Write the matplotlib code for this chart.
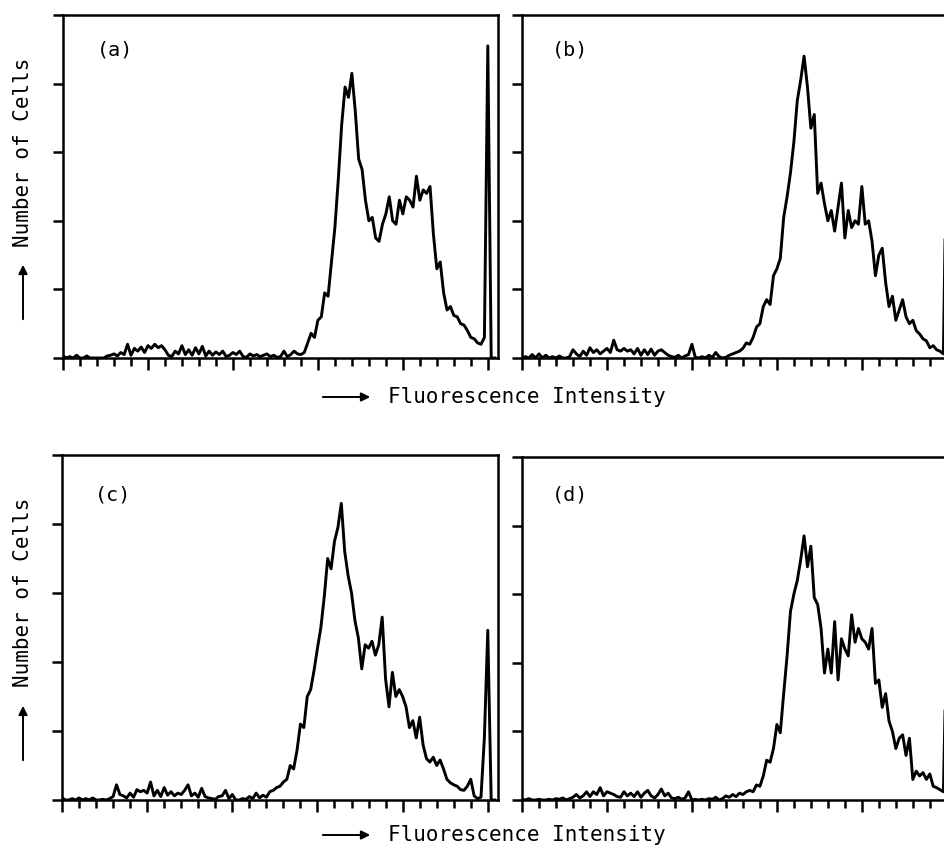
import numpy as np
import matplotlib
matplotlib.use("Agg")
import matplotlib.pyplot as plt
from matplotlib.patches import FancyArrowPatch

# channel positions (every 2nd channel of a 256-channel histogram)
channels = np.arange(0, 256, 2)

counts_a = [0.03, 0, 0.02, 0, 0.04, 0, 0, 0.03, 0, 0,
            0, 0, 0, 0.03, 0.04, 0.06, 0.03, 0.08, 0.05, 0.2,
            0.04, 0.14, 0.1, 0.16, 0.08, 0.18, 0.14, 0.2, 0.15, 0.18,
            0.12, 0.04, 0.02, 0.1, 0.06, 0.18, 0.05, 0.12, 0.04, 0.15,
            0.06, 0.17, 0.03, 0.1, 0.04, 0.09, 0.05, 0.1, 0.02, 0.04,
            0.08, 0.05, 0.1, 0.02, 0.01, 0.06, 0.03, 0.05, 0.02, 0.04,
            0.06, 0.02, 0.04, 0.01, 0.02, 0.1, 0.02, 0.05, 0.1, 0.06,
            0.05, 0.08, 0.22, 0.36, 0.3, 0.55, 0.6, 0.95, 0.9, 1.4,
            1.9, 2.6, 3.4, 3.95, 3.8, 4.15, 3.6, 2.9, 2.75, 2.3,
            2.0, 2.05, 1.75, 1.7, 1.95, 2.1, 2.35, 2.0, 1.95, 2.3,
            2.1, 2.35, 2.3, 2.2, 2.65, 2.3, 2.45, 2.4, 2.5, 1.8,
            1.3, 1.4, 0.95, 0.7, 0.75, 0.62, 0.6, 0.5, 0.48, 0.4,
            0.3, 0.28, 0.22, 0.2, 0.3, 4.55, 0, 0]

counts_b = [0, 0.02, 0, 0.05, 0, 0.06, 0, 0.04, 0, 0.02,
            0, 0.03, 0, 0, 0.02, 0.12, 0.06, 0.02, 0.1, 0.04,
            0.15, 0.08, 0.12, 0.06, 0.1, 0.14, 0.08, 0.26, 0.12, 0.1,
            0.14, 0.1, 0.12, 0.06, 0.14, 0.04, 0.12, 0.05, 0.13, 0.04,
            0.1, 0.12, 0.08, 0.04, 0.02, 0.01, 0.04, 0, 0.03, 0.05,
            0.2, 0.01, 0, 0.02, 0, 0.04, 0.01, 0.08, 0.02, 0,
            0.01, 0.04, 0.06, 0.08, 0.1, 0.14, 0.22, 0.2, 0.3, 0.45,
            0.5, 0.75, 0.85, 0.78, 1.2, 1.3, 1.45, 2.05, 2.35, 2.7,
            3.15, 3.75, 4.05, 4.4, 3.95, 3.35, 3.55, 2.4, 2.55, 2.25,
            2.0, 2.15, 1.85, 2.2, 2.55, 1.75, 2.15, 1.9, 2.0, 1.95,
            2.5, 1.95, 2.0, 1.7, 1.2, 1.5, 1.6, 1.1, 0.75, 0.9,
            0.55, 0.7, 0.85, 0.6, 0.5, 0.55, 0.4, 0.35, 0.28, 0.25,
            0.15, 0.18, 0.12, 0.1, 0.06, 3.6, 0, 0]

counts_c = [0.03, 0, 0, 0.02, 0, 0.03, 0, 0.02, 0, 0.03,
            0, 0, 0.01, 0, 0.02, 0.05, 0.22, 0.08, 0.06, 0.03,
            0.1, 0.04, 0.15, 0.12, 0.14, 0.1, 0.26, 0.06, 0.14, 0.05,
            0.18, 0.07, 0.12, 0.06, 0.1, 0.08, 0.14, 0.22, 0.06, 0.1,
            0.04, 0.17, 0.05, 0.03, 0.02, 0.01, 0.05, 0.06, 0.14, 0.02,
            0.08, 0, 0, 0.02, 0.01, 0.05, 0.02, 0.1, 0.03, 0.07,
            0.04, 0.12, 0.14, 0.18, 0.2, 0.26, 0.3, 0.5, 0.45, 0.72,
            1.1, 1.05, 1.5, 1.6, 1.88, 2.2, 2.5, 2.95, 3.5, 3.35,
            3.75, 3.95, 4.3, 3.6, 3.25, 3.0, 2.6, 2.35, 1.9, 2.25,
            2.2, 2.3, 2.1, 2.25, 2.65, 1.75, 1.35, 1.85, 1.5, 1.6,
            1.5, 1.35, 1.05, 1.15, 0.9, 1.2, 0.8, 0.6, 0.55, 0.62,
            0.5, 0.58, 0.45, 0.3, 0.25, 0.22, 0.2, 0.15, 0.14, 0.2,
            0.3, 0.06, 0.02, 0.04, 0.9, 2.46, 0, 0]

counts_d = [0.01, 0, 0.02, 0, 0, 0.01, 0, 0, 0.01, 0,
            0.02, 0.01, 0.03, 0, 0.02, 0.04, 0.08, 0.03, 0.06, 0.12,
            0.05, 0.12, 0.08, 0.18, 0.06, 0.12, 0.1, 0.08, 0.05, 0.04,
            0.12, 0.06, 0.1, 0.05, 0.12, 0.04, 0.1, 0.14, 0.06, 0.03,
            0.08, 0.16, 0.06, 0.1, 0.03, 0.02, 0.04, 0.01, 0.03, 0.12,
            0, 0.01, 0, 0.01, 0, 0.02, 0.01, 0.04, 0, 0.02,
            0.06, 0.04, 0.08, 0.05, 0.1, 0.08, 0.12, 0.14, 0.12, 0.22,
            0.2, 0.35, 0.58, 0.55, 0.75, 1.1, 0.98, 1.55, 2.1, 2.75,
            3.0, 3.2, 3.5, 3.85, 3.4, 3.7, 2.95, 2.85, 2.5, 1.85,
            2.2, 1.85, 2.6, 1.75, 2.35, 2.2, 2.1, 2.7, 2.3, 2.5,
            2.35, 2.3, 2.2, 2.5, 1.7, 1.75, 1.35, 1.55, 1.15, 1.0,
            0.75, 0.9, 0.95, 0.65, 0.9, 0.3, 0.42, 0.35, 0.4, 0.3,
            0.38, 0.2, 0.18, 0.15, 0.12, 2.63, 0, 0]

panel_labels = ["(a)", "(b)", "(c)", "(d)"]
xlabel = "Fluorescence Intensity"
ylabel = "Number of Cells"

W, H = 945, 849
plt.rcParams["font.family"] = "DejaVu Sans Mono"
fig = plt.figure(figsize=(W / 100, H / 100), dpi=100)


def box(x0, y_top, y_bot, width=435):
    # pixel box -> figure fraction
    return [x0 / W, 1 - y_bot / H, width / W, (y_bot - y_top) / H]


positions = [box(63, 15, 358), box(522, 15, 358),
             box(62, 455, 800, 436), box(522, 457, 800)]
label_pos = [(97, 50), (552, 50), (95, 495), (552, 495)]

for counts, pos, lab, lp in zip([counts_a, counts_b, counts_c, counts_d],
                                positions, panel_labels, label_pos):
    ax = fig.add_axes(pos)
    ax.plot(channels, counts, color="black", lw=2.1)
    ax.set_xlim(0, 256)
    ax.set_ylim(0, 5)
    ax.set_xticks(range(0, 251, 50))
    ax.set_xticks(range(0, 251, 10), minor=True)
    ax.set_yticks(range(6))
    ax.tick_params(axis="x", which="major", length=8.5, width=1.8, direction="out")
    ax.tick_params(axis="x", which="minor", length=6, width=1.8, direction="out")
    ax.tick_params(axis="y", length=7.5, width=1.8, direction="out")
    ax.tick_params(labelbottom=False, labelleft=False)
    for s in ax.spines.values():
        s.set_linewidth(1.8)
    fig.text(lp[0] / W, 1 - lp[1] / H, lab, fontsize=14.5, ha="left", va="center")


def arrow(p0, p1):
    a = FancyArrowPatch((p0[0] / W, 1 - p0[1] / H), (p1[0] / W, 1 - p1[1] / H),
                        transform=fig.transFigure, arrowstyle="-|>",
                        mutation_scale=13, lw=1.4, color="black")
    fig.add_artist(a)


# x axis labels
for yy in (397, 835):
    arrow((320, yy), (373, yy))
    fig.text(388 / W, 1 - yy / H, xlabel, fontsize=15, ha="left", va="center")

# y axis labels
for yc, ya in ((152, 322), (592, 763)):
    arrow((23, ya), (23, ya - 60))
    fig.text(23 / W, 1 - yc / H, ylabel, fontsize=15, rotation=90,
             ha="center", va="center")

fig.savefig("out.png", dpi=100)
